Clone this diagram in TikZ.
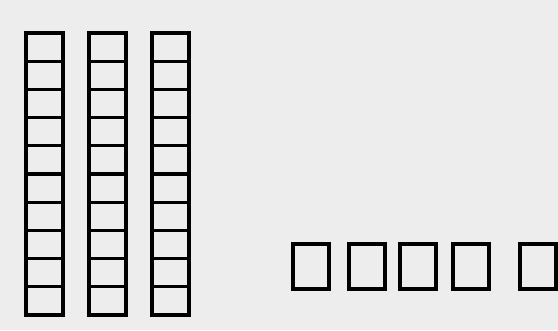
\documentclass[tikz,border=0pt]{standalone}
\begin{document}
\begin{tikzpicture}[x=1pt,y=-1pt,
  cell/.style={draw=black,line width=3.2pt,line join=miter}]
\fill[white!93!black] (0,0) rectangle (558,330);
\useasboundingbox (0,0) rectangle (558,330);
\foreach \x in {26,89,152}{
  \foreach \i in {0,...,9}{
    \draw[cell] (\x,{33+\i*28.2}) rectangle ++(37,28.2);
  }
}
\foreach \x in {293,349,400,453,520}{
  \draw[cell] (\x,244) rectangle ++(36,45);
}
\end{tikzpicture}
\end{document}
